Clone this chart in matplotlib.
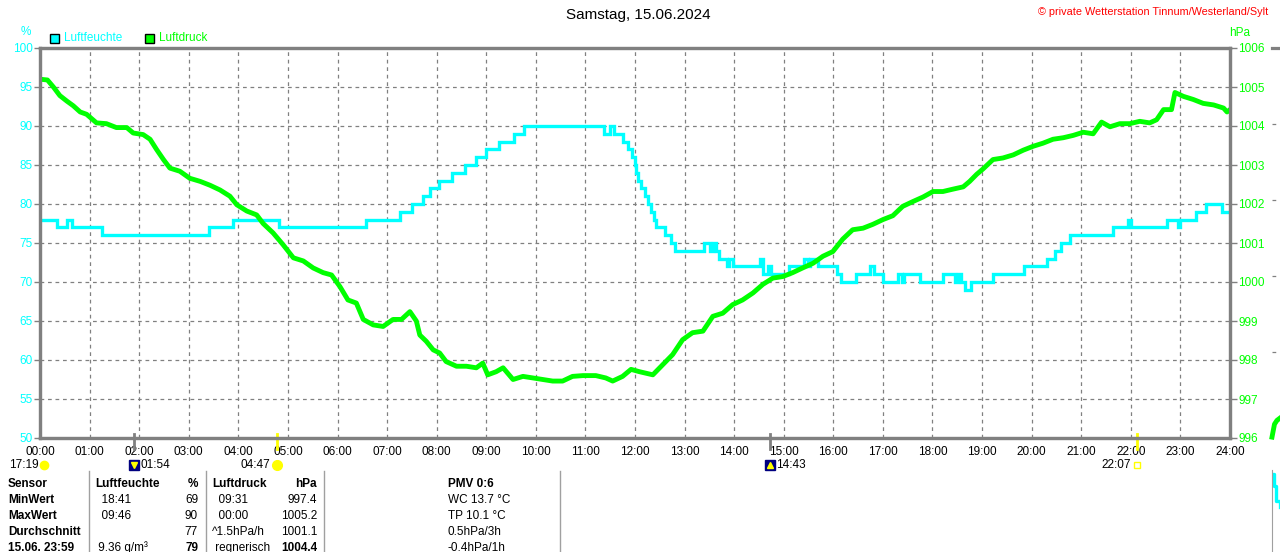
import matplotlib as mpl
from matplotlib import pyplot as plt
from matplotlib.patches import Rectangle
from matplotlib.transforms import blended_transform_factory

mpl.use("agg")
mpl.rcParams["font.family"] = ["Liberation Sans", "DejaVu Sans"]
mpl.rcParams["font.size"] = 8.5

W, H = 1280, 552
CYAN = "#00ffff"
GREEN = "#00ff00"
GRAY = "#808080"

hours = list(range(25))
hour_labels = [f"{h:02d}:00" for h in hours]
hum_ticks = list(range(50, 101, 5))
press_ticks = list(range(996, 1007))

# Luftfeuchte (%), step changes: start time in hours, value
hum_t = [0.0, 0.35, 0.55, 0.65, 1.26, 3.4, 3.9, 4.83, 6.58, 7.26, 7.5, 7.72, 7.86,
         8.04, 8.3, 8.58, 8.8, 9.0, 9.26, 9.56, 9.76, 11.37, 11.5, 11.57, 11.76,
         11.86, 11.93, 12.0, 12.03, 12.06, 12.13, 12.2, 12.26, 12.33, 12.38, 12.43,
         12.6, 12.72, 12.8, 13.4, 13.52, 13.57, 13.64, 13.7, 13.86, 13.9, 13.97,
         14.53, 14.58, 14.68, 14.75, 15.1, 15.4, 15.49, 15.53, 15.69, 16.07, 16.16,
         16.46, 16.74, 16.83, 17.01, 17.3, 17.38, 17.43, 17.74, 18.21, 18.45, 18.51,
         18.58, 18.65, 18.78, 19.22, 19.84, 20.3, 20.48, 20.6, 20.78, 21.64, 21.95,
         22.0, 22.72, 22.95, 23.0, 23.32, 23.51, 23.84, 24.0]
hum_v = [78, 77, 78, 77, 76, 77, 78, 77, 78, 79, 80, 81, 82,
         83, 84, 85, 86, 87, 88, 89, 90, 89, 90, 89, 88,
         87, 86, 85, 84, 83, 82, 81, 80, 79, 78, 77,
         76, 75, 74, 75, 74, 75, 74, 73, 72, 73, 72,
         73, 71, 72, 71, 72, 73, 72, 73, 72, 71, 70,
         71, 72, 71, 70, 71, 70, 71, 70, 71, 70, 71,
         70, 69, 70, 71, 72, 73, 74, 75, 76, 77, 78,
         77, 78, 77, 78, 79, 80, 79, 79]

# Luftdruck (hPa)
press_t = [0.0, 0.15, 0.27, 0.4, 0.54, 0.67, 0.81, 0.94, 1.14, 1.34, 1.54, 1.75, 1.88,
           2.08, 2.22, 2.35, 2.49, 2.62, 2.82, 3.02, 3.23, 3.43, 3.63, 3.83, 3.97,
           4.17, 4.37, 4.5, 4.7, 4.9, 5.11, 5.31, 5.51, 5.71, 5.88, 6.05, 6.21, 6.38,
           6.52, 6.72, 6.92, 7.12, 7.29, 7.46, 7.59, 7.66, 7.79, 7.93, 8.06, 8.19,
           8.4, 8.6, 8.8, 8.93, 9.03, 9.2, 9.34, 9.54, 9.74, 9.94, 10.14, 10.34,
           10.54, 10.74, 10.95, 11.21, 11.41, 11.55, 11.75, 11.92, 12.09, 12.36,
           12.56, 12.76, 12.96, 13.16, 13.37, 13.57, 13.77, 13.97, 14.17, 14.38,
           14.58, 14.78, 14.98, 15.18, 15.38, 15.59, 15.79, 15.99, 16.19, 16.39,
           16.6, 16.8, 17.0, 17.2, 17.4, 17.6, 17.81, 18.01, 18.21, 18.41, 18.62,
           18.75, 18.89, 19.02, 19.22, 19.42, 19.63, 19.83, 20.03, 20.23, 20.43,
           20.64, 20.84, 21.04, 21.24, 21.41, 21.58, 21.78, 21.98, 22.18, 22.38,
           22.52, 22.66, 22.82, 22.89, 23.06, 23.26, 23.46, 23.67, 23.87, 23.94, 24.0]
press_v = [1005.2, 1005.18, 1005.0, 1004.78, 1004.64, 1004.52, 1004.36, 1004.3, 1004.08,
           1004.06, 1003.96, 1003.96, 1003.82, 1003.78, 1003.66, 1003.4, 1003.14,
           1002.92, 1002.84, 1002.66, 1002.58, 1002.48, 1002.36, 1002.2, 1001.98,
           1001.82, 1001.72, 1001.5, 1001.26, 1000.96, 1000.62, 1000.54, 1000.36,
           1000.24, 1000.18, 999.88, 999.54, 999.46, 999.04, 998.9, 998.86, 999.04,
           999.04, 999.24, 999.0, 998.64, 998.48, 998.26, 998.18, 997.96, 997.84,
           997.84, 997.8, 997.92, 997.62, 997.7, 997.8, 997.5, 997.58, 997.54,
           997.5, 997.46, 997.46, 997.58, 997.6, 997.6, 997.54, 997.46, 997.58,
           997.76, 997.7, 997.62, 997.88, 998.14, 998.52, 998.7, 998.74, 999.12,
           999.2, 999.42, 999.54, 999.72, 999.94, 1000.1, 1000.14, 1000.24, 1000.36,
           1000.48, 1000.66, 1000.78, 1001.1, 1001.34, 1001.38, 1001.48, 1001.6,
           1001.7, 1001.94, 1002.06, 1002.18, 1002.32, 1002.32, 1002.38, 1002.44,
           1002.58, 1002.76, 1002.9, 1003.14, 1003.18, 1003.26, 1003.38, 1003.48,
           1003.56, 1003.66, 1003.7, 1003.76, 1003.84, 1003.8, 1004.1, 1003.98,
           1004.06, 1004.06, 1004.12, 1004.08, 1004.16, 1004.42, 1004.42, 1004.86,
           1004.76, 1004.68, 1004.58, 1004.54, 1004.46, 1004.36, 1004.42]

# Sonne / Mond Ereignisse
event_times = [1.9, 4.783, 14.717, 22.117]
event_labels = ["01:54", "04:47", "14:43", "22:07"]
event_colors = [GRAY, "#ffff00", GRAY, "#ffff00"]
moon_label = "17:19"

# Tabelle
row_labels = ["Sensor", "MinWert", "MaxWert", "Durchschnitt", "15.06. 23:59"]
hum_info = ["Luftfeuchte", "  18:41", "  09:46", "", " 9.36 g/m³"]
hum_vals = ["%", "69", "90", "77", "79"]
press_info = ["Luftdruck", "  09:31", "  00:00", "^1.5hPa/h", " regnerisch"]
press_vals = ["hPa", "997.4", "1005.2", "1001.1", "1004.4"]
extra_info = ["PMV 0:6", "WC 13.7 °C", "TP 10.1 °C", "0.5hPa/3h", "-0.4hPa/1h"]

# Anschnitt des nächsten Diagramms am rechten Rand
next_press_t = [0.0, 0.05, 0.1, 0.16]
next_press_v = [-0.12, 0.05, 0.1, 0.13]
next_hum_t = [0.0, 0.05, 0.08, 0.16]
next_hum_v = [0.95, 0.8, 0.62, 0.55]


def fx(x):
    return x / W


def fy(y):
    return 1 - y / H


fig = plt.figure(figsize=(W / 100, H / 100), dpi=100)

ax = fig.add_axes([fx(40), fy(438), 1190 / W, 390 / H])
ax.set_xlim(0, 24)
ax.set_ylim(50, 100)
ax.set_xticks(hours)
ax.set_xticklabels(hour_labels)
ax.set_yticks(hum_ticks)
ax.grid(True, color=GRAY, ls=(0, (3, 3)), lw=0.9)
ax.tick_params(axis="x", length=0, pad=6, labelsize=8.5)
ax.tick_params(axis="y", length=4, width=1, color=GRAY, labelcolor=CYAN, pad=1, labelsize=8.5)
ax.plot(hum_t, hum_v, drawstyle="steps-post", color=CYAN, lw=2.4, solid_joinstyle="miter")

ax2 = ax.twinx()
ax2.set_ylim(996, 1006)
ax2.set_yticks(press_ticks)
ax2.tick_params(axis="y", length=5, width=1, color=GRAY, labelcolor=GREEN, pad=1, labelsize=8.5)
ax2.plot(press_t, press_v, color=GREEN, lw=3.5)

for a in (ax, ax2):
    for s in a.spines.values():
        s.set_color(GRAY)
        s.set_linewidth(2.3)

# Ereignisse unter der Zeitachse
trans = blended_transform_factory(ax.transData, ax.transAxes)
for t, lab, c in zip(event_times, event_labels, event_colors):
    ax.plot([t, t], [4 / 390, -11 / 390], transform=trans, color=c, lw=2, clip_on=False)

icon_y = -27 / 390
ax.plot(0.09, icon_y, transform=trans, marker="o", ms=6, color="#ffff00", clip_on=False)
ax.text(-0.02, icon_y, moon_label, transform=trans, ha="right", va="center", fontsize=8.5)
for t, lab in zip(event_times, event_labels):
    if lab in ("01:54", "14:43"):
        ax.plot(t, icon_y, transform=trans, marker="s", ms=7, color="#000080", clip_on=False)
        ax.plot(t, icon_y, transform=trans, marker="v" if lab == "01:54" else "^",
                ms=4, color="#ffff00", clip_on=False)
        ax.text(t + 0.12, icon_y, lab, transform=trans, ha="left", va="center", fontsize=8.5)
    elif lab == "04:47":
        ax.plot(t, icon_y, transform=trans, marker="o", ms=7, color="#ffff00", clip_on=False)
        ax.text(t - 0.14, icon_y, lab, transform=trans, ha="right", va="center", fontsize=8.5)
    else:
        ax.plot(t, icon_y, transform=trans, marker="s", ms=4, mfc="none", mec="#ffff00",
                clip_on=False)
        ax.text(t - 0.12, icon_y, lab, transform=trans, ha="right", va="center", fontsize=8.5)

# Kopfzeile
fig.text(fx(638), fy(15), "Samstag, 15.06.2024", ha="center", va="center", fontsize=11)
fig.text(fx(1268), fy(12), "© private Wetterstation Tinnum/Westerland/Sylt", ha="right",
         va="center", color="red", fontsize=7.8)
fig.text(fx(26), fy(32), "%", ha="center", va="center", color=CYAN, fontsize=8.5)
fig.text(fx(1240), fy(33), "hPa", ha="center", va="center", color=GREEN, fontsize=8.5)
for x0, col, name in [(50, CYAN, "Luftfeuchte"), (145, GREEN, "Luftdruck")]:
    fig.add_artist(Rectangle((fx(x0), fy(43)), 9 / W, 9 / H, facecolor=col,
                             edgecolor="black", lw=1, transform=fig.transFigure))
    fig.text(fx(x0 + 14), fy(38), name, ha="left", va="center", color=col, fontsize=8.5)

# Tabelle unten
row_y = [484, 500, 516, 532, 548]
for i, y in enumerate(row_y):
    head = i == 0
    fig.text(fx(8), fy(y), row_labels[i], ha="left", va="center", weight="bold")
    fig.text(fx(95), fy(y), hum_info[i], ha="left", va="center",
             weight="bold" if head else "normal")
    fig.text(fx(198), fy(y), hum_vals[i], ha="right", va="center",
             weight="bold" if head or i == 4 else "normal")
    fig.text(fx(212), fy(y), press_info[i], ha="left", va="center",
             weight="bold" if head else "normal")
    fig.text(fx(317), fy(y), press_vals[i], ha="right", va="center",
             weight="bold" if head or i == 4 else "normal")
    fig.text(fx(448), fy(y), extra_info[i], ha="left", va="center",
             weight="bold" if head else "normal")
for xs in [89, 206, 324, 560]:
    fig.add_artist(plt.Line2D([fx(xs), fx(xs)], [fy(471), 0], color="#a0a0a0", lw=1,
                              transform=fig.transFigure))

# rechter Rand: Anfang des nächsten Bildes
nx = fig.add_axes([fx(1272), fy(428), 1190 / W, 380 / H])
nx.set_xlim(0, 24)
nx.set_ylim(0, 5)
nx.set_yticks([1, 2, 3, 4])
nx.set_xticks([])
nx.grid(True, axis="y", color=GRAY, ls=(0, (3, 3)), lw=0.9)
nx.tick_params(axis="y", length=0, labelleft=False)
for k, s in nx.spines.items():
    s.set_visible(k == "top")
    s.set_color(GRAY)
    s.set_linewidth(2.3)
nx.patch.set_visible(False)
nx.plot(next_press_t, next_press_v, color=GREEN, lw=3.5, clip_on=False)

nx2 = fig.add_axes([fx(1272), 0, 1190 / W, 82 / H])
nx2.set_xlim(0, 24)
nx2.set_ylim(0, 1)
nx2.set_xticks([])
nx2.set_yticks([])
for k, s in nx2.spines.items():
    s.set_visible(k == "left")
    s.set_color("#a0a0a0")
nx2.patch.set_visible(False)
nx2.plot(next_hum_t, next_hum_v, drawstyle="steps-post", color=CYAN, lw=2.4)

fig.savefig("out.png", dpi=100)
plt.close(fig)
